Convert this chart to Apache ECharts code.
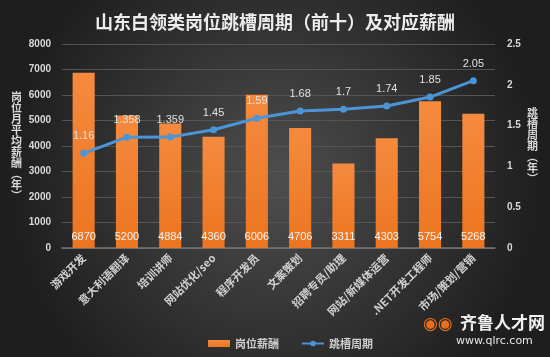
<!DOCTYPE html>
<html><head><meta charset="utf-8">
<script src="https://cdn.jsdelivr.net/npm/echarts@6/dist/echarts.min.js"></script>
<style>html,body{margin:0;padding:0;}#c{width:550px;height:357px;}</style>
</head><body><div id="c"></div>
<script>
const categories = ['游戏开发','意大利语翻译','培训讲师','网站优化/seo','程序开发员','文案策划','招聘专员/助理','网站/新媒体运营','.NET开发工程师','市场/策划/营销'];
const salary = [6870,5200,4884,4360,6006,4706,3311,4303,5754,5268];
const cycle = [1.16,1.358,1.359,1.45,1.59,1.68,1.7,1.74,1.85,2.05];
const cycleLabels = ['1.16','1.358','1.359','1.45','1.59','1.68','1.7','1.74','1.85','2.05'];
const leftTicks = [0,1000,2000,3000,4000,5000,6000,7000,8000];
const rightTicks = [0,0.5,1,1.5,2,2.5];

const ff = '"Noto Sans CJK SC","Noto Sans",sans-serif';
const chart = echarts.init(document.getElementById('c'));
chart.setOption({
  backgroundColor: {type:'radial', x:0.5, y:0.5, r:0.75, colorStops:[{offset:0,color:'#4e4e4e'},{offset:1,color:'#1e1e1e'}]},
  title: {text:'山东白领类岗位跳槽周期（前十）及对应薪酬', left:'center', top:8,
    textStyle:{color:'#ececec', fontSize:18, fontWeight:'bold', fontFamily:ff}},
  legend: {left:203, top:333, itemGap:22, itemWidth:22, itemHeight:7,
    textStyle:{color:'#cfcfcf', fontSize:11, fontWeight:'bold', fontFamily:ff},
    data:[{name:'岗位薪酬', icon:'rect'}, {name:'跳槽周期'}]},
  grid: {left:62, right:55, top:44, bottom:109},
  xAxis: {type:'category', data:categories,
    axisLine:{lineStyle:{color:'#777', width:1.5}}, axisTick:{show:false},
    axisLabel:{rotate:45, color:'#d0d0d0', fontSize:11, fontWeight:'bold', fontFamily:ff, margin:8, interval:0}},
  yAxis: [
    {type:'value', min:leftTicks[0], max:leftTicks[leftTicks.length-1], interval:1000,
     name:'岗\n位\n月\n平\n均\n薪\n酬\n︵\n年\n︶', nameLocation:'middle', nameGap:40, nameRotate:0,
     nameTextStyle:{color:'#d8d8d8', fontSize:11, fontWeight:'bold', lineHeight:11, fontFamily:ff},
     axisLabel:{color:'#d8d8d8', fontSize:10, fontWeight:'bold', fontFamily:'"Liberation Sans",sans-serif', margin:11,
       formatter: v => String(v)},
     splitLine:{lineStyle:{color:'#555'}}, axisLine:{show:false}, axisTick:{show:false}},
    {type:'value', min:rightTicks[0], max:rightTicks[rightTicks.length-1], interval:0.5,
     name:'跳\n槽\n周\n期\n︵\n年\n︶', nameLocation:'middle', nameGap:32, nameRotate:0,
     nameTextStyle:{color:'#d8d8d8', fontSize:11, fontWeight:'bold', lineHeight:11, fontFamily:ff},
     axisLabel:{color:'#d8d8d8', fontSize:10, fontWeight:'bold', fontFamily:'"Liberation Sans",sans-serif', margin:12},
     splitLine:{show:false}, axisLine:{show:false}, axisTick:{show:false}}
  ],
  series: [
    {name:'岗位薪酬', type:'bar', data:salary, barWidth:'51%',
     itemStyle:{color:{type:'linear',x:0,y:0,x2:0,y2:1,colorStops:[{offset:0,color:'#f58a3e'},{offset:1,color:'#ec7520'}]}},
     label:{show:true, position:'insideBottom', distance:6, color:'#f4f4f4', fontSize:11, fontFamily:'"Liberation Sans",sans-serif'}},
    {name:'跳槽周期', type:'line', yAxisIndex:1, data:cycle, symbol:'circle', symbolSize:7,
     lineStyle:{color:'#4b95d6', width:3}, itemStyle:{color:'#4b95d6'},
     label:{show:true, position:'top', distance:8, color:'#e0e0e0', fontSize:11, fontFamily:'"Liberation Sans",sans-serif',
       formatter: p => cycleLabels[p.dataIndex]}}
  ],
  graphic: [
    {type:'text', left:460, top:314, style:{text:'齐鲁人才网', fill:'#f0f0f0', fontSize:17, fontWeight:'bold', fontFamily:ff}},
    {type:'text', left:456, top:336, style:{text:'www.qlrc.com', fill:'#e8e8e8', fontSize:11, fontFamily:'"DejaVu Sans",sans-serif'}},
    {type:'text', left:423, top:316, style:{text:'◉◉', fill:'#e8701a', fontSize:17, fontFamily:'"DejaVu Sans",sans-serif'}}
  ]
});
</script></body></html>
